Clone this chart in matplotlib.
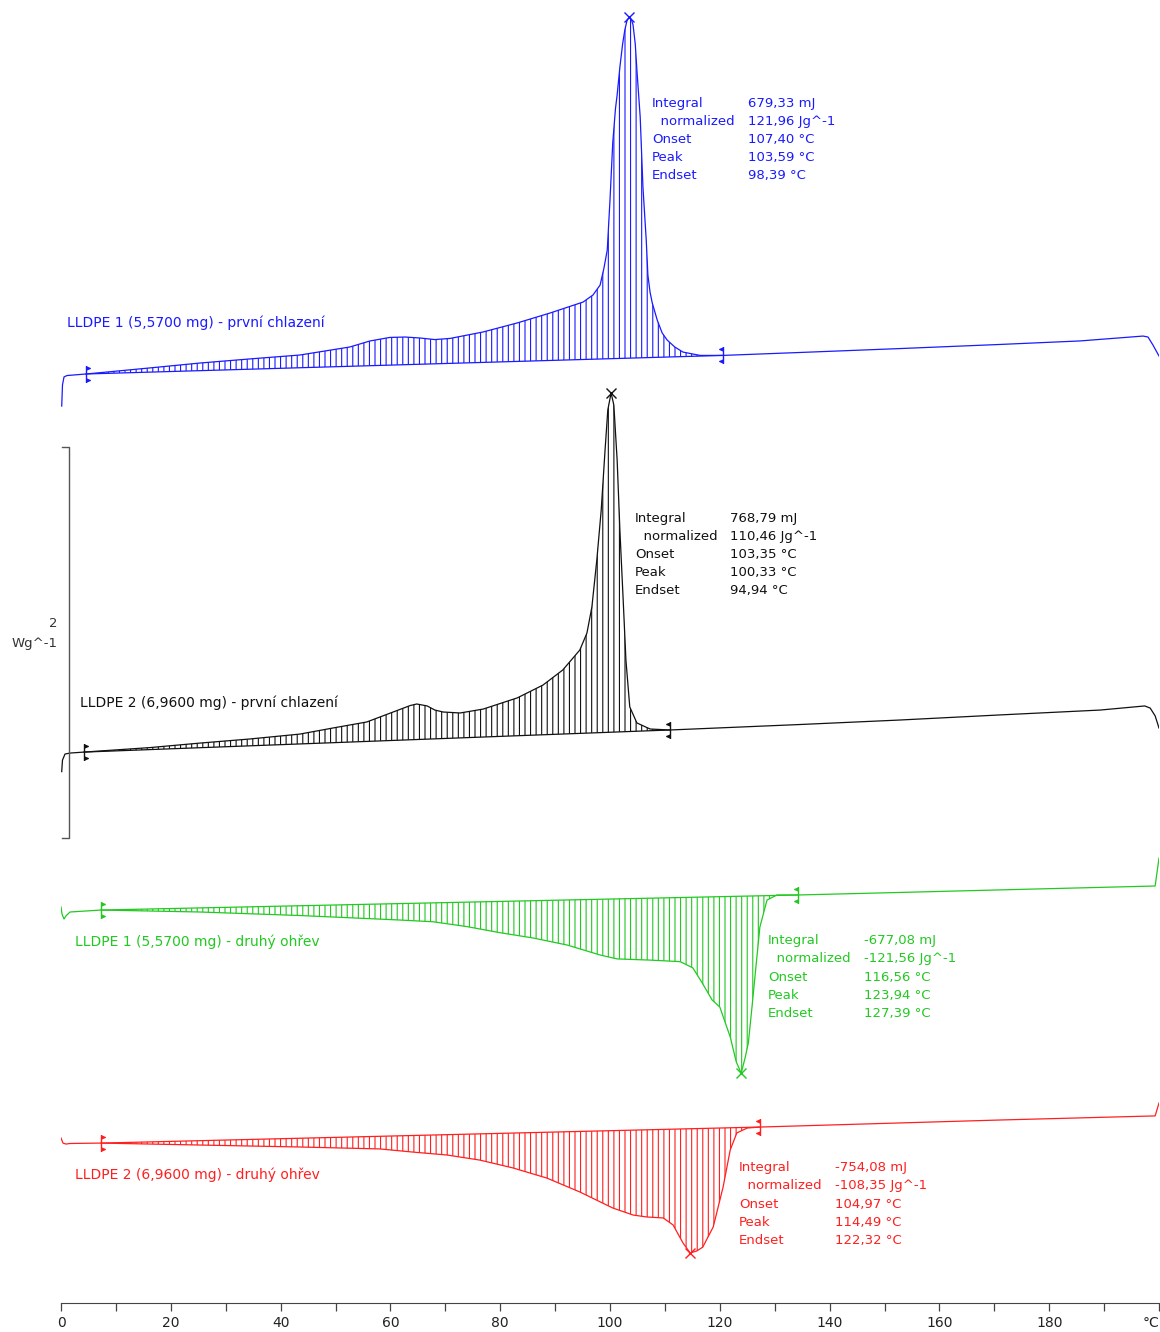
import numpy as np
import matplotlib.pyplot as plt
from matplotlib.path import Path

plt.rcParams['font.family'] = ['DejaVu Sans']
plt.rcParams['hatch.linewidth'] = 0.8

# LLDPE 1 - první chlazení (teplota °C, tepelný tok W/g, posunuto)
t_1c = [0.13, 0.27, 0.55, 1.09, 4.55, 8.38, 16.2, 25.3, 34.4, 43.5, 52.6, 56.3, 59.9, 62.7, 65.4,
        68.1, 70.9, 76.9, 83.1, 89.1, 95.1, 96.9, 98.2, 98.9, 99.5, 100.0, 100.5, 101.0, 101.3,
        101.8, 102.3, 102.7, 103.1, 103.5, 103.9, 104.2, 104.6, 104.9, 105.5, 106.0, 106.6, 106.9,
        107.3, 107.7, 108.6, 109.5, 110.4, 111.8, 113.3, 116.4, 120.6, 134.6, 152.8, 171.0, 185.6,
        197.1, 198.0, 198.9, 200.0]
hf_1c = [4.588, 4.696, 4.737, 4.744, 4.752, 4.762, 4.783, 4.808, 4.829, 4.849, 4.890, 4.921, 4.939,
         4.941, 4.936, 4.928, 4.934, 4.967, 5.013, 5.064, 5.120, 5.156, 5.207, 5.294, 5.386, 5.642,
         5.934, 6.110, 6.179, 6.322, 6.440, 6.512, 6.560, 6.578, 6.565, 6.537, 6.440, 6.307, 6.066,
         5.708, 5.437, 5.258, 5.170, 5.115, 5.028, 4.962, 4.926, 4.890, 4.864, 4.847, 4.847, 4.862,
         4.882, 4.903, 4.921, 4.946, 4.941, 4.900, 4.844]

# LLDPE 2 - první chlazení
t_2c = [0.13, 0.27, 0.73, 1.64, 4.19, 16.2, 25.3, 34.4, 43.5, 49.5, 55.7, 60.5, 63.6, 64.8, 66.7,
        68.1, 69.6, 72.7, 76.9, 83.1, 87.8, 91.4, 94.5, 95.8, 96.7, 97.6, 98.4, 99.1, 99.6, 100.2,
        100.7, 101.3, 101.8, 102.4, 102.9, 103.6, 104.9, 107.3, 110.9, 134.6, 152.8, 171.0, 189.3,
        197.4, 198.4, 199.3, 200.0]
hf_2c = [2.718, 2.777, 2.808, 2.813, 2.818, 2.841, 2.864, 2.885, 2.910, 2.941, 2.972, 3.023, 3.056,
         3.064, 3.054, 3.033, 3.023, 3.018, 3.038, 3.095, 3.161, 3.238, 3.340, 3.427, 3.560, 3.801,
         4.056, 4.363, 4.568, 4.655, 4.593, 4.312, 3.954, 3.596, 3.289, 3.049, 2.967, 2.936, 2.931,
         2.959, 2.982, 3.008, 3.033, 3.054, 3.043, 3.003, 2.941]

# LLDPE 1 - druhý ohřev
t_1h = [0.0, 0.18, 0.55, 0.91, 1.64, 7.29, 25.3, 43.5, 61.7, 67.8, 74.0, 80.0, 86.0, 92.2, 98.2,
        101.3, 107.3, 112.8, 115.1, 116.8, 118.6, 120.0, 121.9, 123.0, 123.9, 124.6, 125.2, 125.9,
        126.4, 127.3, 128.6, 130.4, 134.2, 152.8, 171.0, 199.3, 200.0]
hf_1h = [2.026, 1.990, 1.964, 1.980, 2.000, 2.010, 2.000, 1.982, 1.959, 1.950, 1.925, 1.894, 1.867,
         1.831, 1.780, 1.760, 1.754, 1.746, 1.714, 1.637, 1.550, 1.514, 1.361, 1.233, 1.176, 1.253,
         1.330, 1.524, 1.668, 1.923, 2.061, 2.087, 2.087, 2.100, 2.113, 2.133, 2.276]

# LLDPE 2 - druhý ohřev
t_2h = [0.0, 0.36, 0.91, 1.64, 7.29, 25.3, 43.5, 58.1, 64.1, 70.3, 76.3, 82.3, 88.5, 94.5, 100.5,
        104.2, 106.7, 109.7, 111.5, 113.3, 114.6, 115.8, 116.9, 118.8, 120.6, 121.9, 123.1, 125.0,
        127.3, 152.8, 171.0, 199.3, 200.0]
hf_2h = [0.844, 0.818, 0.813, 0.816, 0.818, 0.808, 0.798, 0.788, 0.772, 0.757, 0.731, 0.691, 0.639,
         0.568, 0.486, 0.450, 0.440, 0.435, 0.399, 0.307, 0.256, 0.266, 0.286, 0.389, 0.593, 0.783,
         0.870, 0.895, 0.900, 0.921, 0.936, 0.957, 1.023]

labels = ['LLDPE 1 (5,5700 mg) - první chlazení', 'LLDPE 2 (6,9600 mg) - první chlazení',
          'LLDPE 1 (5,5700 mg) - druhý ohřev', 'LLDPE 2 (6,9600 mg) - druhý ohřev']
limits = [(4.55, 120.6), (4.19, 110.9), (7.29, 134.2), (7.29, 127.3)]
row_names = ['Integral', '  normalized', 'Onset', 'Peak', 'Endset']
results = [['679,33 mJ', '121,96 Jg^-1', '107,40 °C', '103,59 °C', '98,39 °C'],
           ['768,79 mJ', '110,46 Jg^-1', '103,35 °C', '100,33 °C', '94,94 °C'],
           ['-677,08 mJ', '-121,56 Jg^-1', '116,56 °C', '123,94 °C', '127,39 °C'],
           ['-754,08 mJ', '-108,35 Jg^-1', '104,97 °C', '114,49 °C', '122,32 °C']]
x_ticks = list(range(0, 201, 10))
x_ticklabels = ['0', '', '20', '', '40', '', '60', '', '80', '', '100', '', '120', '', '140', '',
                '160', '', '180', '', '°C']

colors = ['#1a1aff', '#111111', '#22c922', '#ff1f1f']
curves = [(t_1c, hf_1c), (t_2c, hf_2c), (t_1h, hf_1h), (t_2h, hf_2h)]
exo = [True, True, False, False]
# umístění popisků (x, y) v souřadnicích grafu
label_pos = [(1.09, 5.013), (3.46, 3.069), (2.55, 1.847), (2.55, 0.655)]
table_pos = [(107.65, 125.1, 6.138), (104.55, 121.86, 4.015), (128.78, 146.27, 1.852),
             (123.5, 140.98, 0.691)]

# značka mezí integrace
left_mark = Path([(0, -1), (0, 1), (0, 0.9), (0.45, 0.72), (0, 0.55), (0, -0.55), (0.45, -0.72),
                  (0, -0.9)],
                 [Path.MOVETO, Path.LINETO, Path.MOVETO, Path.LINETO, Path.LINETO,
                  Path.MOVETO, Path.LINETO, Path.LINETO])
right_mark = Path([(-x, y) for x, y in left_mark.vertices], left_mark.codes)

fig = plt.figure(figsize=(11.6, 13.32), dpi=100)
ax = fig.add_axes([61 / 1160, 29 / 1332, 1098 / 1160, 1303 / 1332])
ax.set_xlim(0, 200)
ax.set_ylim(0, 1303 / 195.5)

for i, (t, hf) in enumerate(curves):
    t = np.array(t)
    hf = np.array(hf)
    c = colors[i]
    t1, t2 = limits[i]
    y1 = hf[np.argmin(abs(t - t1))]
    y2 = hf[np.argmin(abs(t - t2))]
    ax.plot(t, hf, color=c, lw=0.9)
    ax.plot([t1, t2], [y1, y2], color=c, lw=0.9)
    m = (t >= t1 - 1e-6) & (t <= t2 + 1e-6)
    base = y1 + (y2 - y1) * (t - t1) / (t2 - t1)
    ax.fill_between(t[m], hf[m], base[m], facecolor='none', edgecolor=c, hatch='|||', linewidth=0)
    # pík
    k = np.argmax(hf) if exo[i] else np.argmin(np.where(m, hf, 99))
    ax.plot(t[k], hf[k], marker='x', color=c, ms=7, mew=1.0)
    ax.plot(t1, y1, marker=left_mark, color=c, ms=12, mew=1.0, mfc=c)
    ax.plot(t2, y2, marker=right_mark, color=c, ms=12, mew=1.0, mfc=c)

    lx, ly = label_pos[i]
    ax.text(lx, ly, labels[i], color=c, fontsize=10, ha='left', va='center')
    nx, vx, ty = table_pos[i]
    for j in range(5):
        ax.annotate(row_names[j], (nx, ty), xytext=(0, -13 * j), textcoords='offset points',
                    color=c, fontsize=9.5, ha='left', va='center')
        ax.annotate(results[i][j], (vx, ty), xytext=(0, -13 * j), textcoords='offset points',
                    color=c, fontsize=9.5, ha='left', va='center')

# měřítko 2 W/g
bar_x, bar_lo, bar_hi, tip = 1.46, 2.379, 4.378, 0.18
ax.plot([tip, bar_x, bar_x, tip], [bar_hi, bar_hi, bar_lo, bar_lo], color='#555555', lw=1.0,
        clip_on=False)
ax.text(-0.55, 3.478, '2', color='#333333', fontsize=9.5, ha='right', va='center')
ax.text(-0.55, 3.371, 'Wg^-1', color='#333333', fontsize=9.5, ha='right', va='center')

for s in ['left', 'right', 'top']:
    ax.spines[s].set_visible(False)
ax.spines['bottom'].set_color('#444444')
ax.set_yticks([])
ax.set_xticks(x_ticks)
ax.set_xticklabels(x_ticklabels)
ax.tick_params(axis='x', length=5.5, width=0.9, color='#444444', labelsize=10, pad=4,
               labelcolor='#222222')
ax.get_xticklabels()[-1].set_ha('right')

fig.savefig('out.png', dpi=100)
